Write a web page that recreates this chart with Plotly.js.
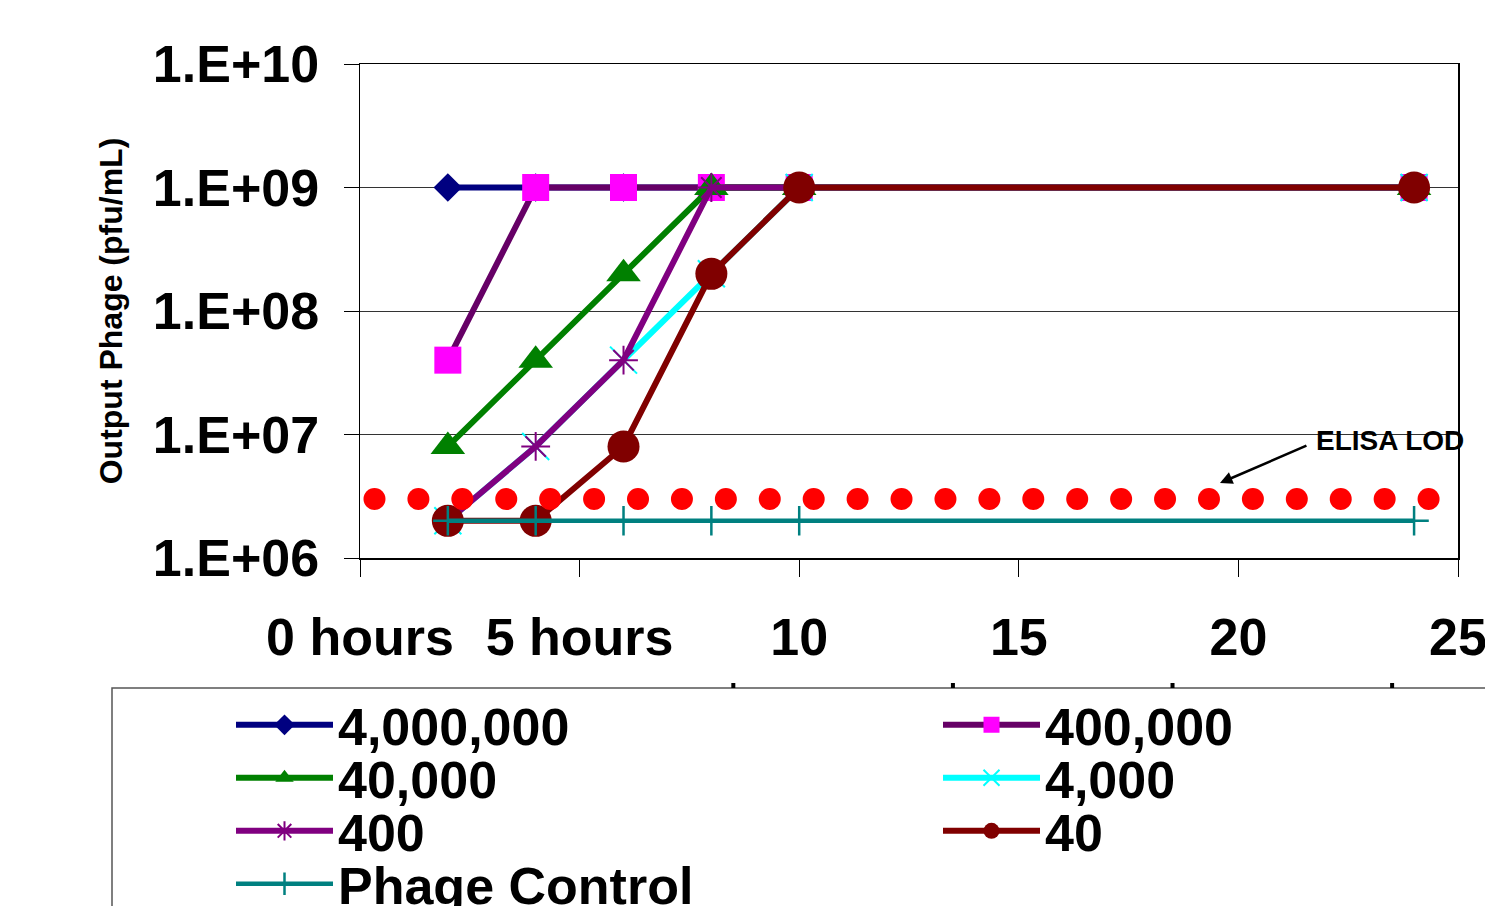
<!DOCTYPE html>
<html>
<head>
<meta charset="utf-8">
<script src="https://cdn.plot.ly/plotly-3.0.1.min.js"></script>
<style>html,body{margin:0;padding:0;background:#fff;}#chart{width:1485px;height:906px;}</style>
</head>
<body>
<div id="chart"></div>
<script>
// ---- data ----
const hours = [2, 4, 6, 8, 10, 24];
const s4000000 = [1e9, 1e9, 1e9, 1e9, 1e9, 1e9];
const s400000 = [4e7, 1e9, 1e9, 1e9, 1e9, 1e9];
const s40000 = [8e6, 4e7, 2e8, 1e9, 1e9, 1e9];
const s4000 = [2e6, 8e6, 4e7, 2e8, 1e9, 1e9];
const s400 = [2e6, 8e6, 4e7, 1e9, 1e9, 1e9];
const s40 = [2e6, 2e6, 8e6, 2e8, 1e9, 1e9];
const phageControl = [2e6, 2e6, 2e6, 2e6, 2e6, 2e6];
const lodX = [0.33, 1.33, 2.33, 3.33, 4.33, 5.33, 6.33, 7.33, 8.33, 9.33, 10.33, 11.33, 12.33,
              13.33, 14.33, 15.33, 16.33, 17.33, 18.33, 19.33, 20.33, 21.33, 22.33, 23.33, 24.33];
const lodY = [3e6, 3e6, 3e6, 3e6, 3e6, 3e6, 3e6, 3e6, 3e6, 3e6, 3e6, 3e6, 3e6,
              3e6, 3e6, 3e6, 3e6, 3e6, 3e6, 3e6, 3e6, 3e6, 3e6, 3e6, 3e6];
const xTickVals = [0, 5, 10, 15, 20, 25];
const xTickText = ['0 hours', '5 hours', '10', '15', '20', '25'];
const yTickVals = [1e6, 1e7, 1e8, 1e9, 1e10];
const yTickText = ['1.E+06', '1.E+07', '1.E+08', '1.E+09', '1.E+10'];
const seriesNames = ['4,000,000', '400,000', '40,000', '4,000', '400', '40', 'Phage Control'];

const FONT = 'Liberation Sans, Arial, sans-serif';

function tr(y, name, lineColor, lineW, marker, legendId) {
  return {
    x: hours, y: y, name: name, type: 'scatter', mode: 'lines+markers',
    line: {color: lineColor, width: lineW},
    marker: marker, legend: legendId, cliponaxis: false
  };
}

const traces = [
  tr(s4000000, seriesNames[0], '#000080', 6, {symbol: 'diamond', size: 22, color: '#000080', line: {width: 0}}, 'legend'),
  tr(s400000, seriesNames[1], '#660066', 6, {symbol: 'square', size: 27, color: '#FF00FF', line: {width: 0}}, 'legend'),
  tr(s40000, seriesNames[2], '#008000', 6, {symbol: 'triangle-up', size: 30, color: '#008000', line: {width: 0}}, 'legend2'),
  tr(s4000, seriesNames[3], '#00FFFF', 6, {symbol: 'x-thin', size: 27, color: '#00FFFF', line: {width: 2, color: '#00FFFF'}}, 'legend2'),
  tr(s400, seriesNames[4], '#800080', 6, {symbol: 'asterisk-open', size: 24, color: '#800080', line: {width: 2, color: '#800080'}}, 'legend3'),
  tr(s40, seriesNames[5], '#800000', 6, {symbol: 'circle', size: 32, color: '#800000', line: {width: 0}}, 'legend3'),
  tr(phageControl, seriesNames[6], '#008080', 4.5, {symbol: 'cross-thin', size: 21, color: '#008080', line: {width: 2.5, color: '#008080'}}, 'legend4'),
  {x: lodX, y: lodY, name: 'ELISA LOD', type: 'scatter', mode: 'markers',
   marker: {symbol: 'circle', size: 22, color: '#FF0000', line: {width: 0}},
   showlegend: false, cliponaxis: false}
];

// plot area in pixels: x 360..1458, y 64..558
const L = 360, R = 1458, T = 64, B = 558;
const px2x = p => (p - L) / (R - L);
const py2y = p => (B - p) / (B - T);

const legendFont = {family: FONT, size: 52, weight: 'bold', color: '#000'};
function legendAt(rowY) {
  return {
    orientation: 'h', x: px2x(231), xanchor: 'left', y: py2y(rowY), yanchor: 'middle',
    bgcolor: 'rgba(0,0,0,0)', borderwidth: 0, font: legendFont,
    itemwidth: 97,
    entrywidth: 595, entrywidthmode: 'pixels', traceorder: 'normal'
  };
}

const layout = {
  width: 1485, height: 906,
  margin: {l: L, r: 1485 - R, t: T, b: 906 - B, autoexpand: false},
  paper_bgcolor: '#fff', plot_bgcolor: '#fff',
  showlegend: true,
  xaxis: {
    range: [0, 25], tickvals: xTickVals, ticktext: xTickText,
    showgrid: false, zeroline: false, showline: true, linecolor: '#000', linewidth: 1.5, mirror: true,
    ticks: 'outside', ticklen: 17, tickcolor: '#000', tickwidth: 1,
    ticklabelstandoff: 16, ticklabeloverflow: 'allow',
    tickfont: {family: FONT, size: 52, weight: 'bold', color: '#000'}
  },
  yaxis: {
    type: 'log', range: [6, 10], tickvals: yTickVals, ticktext: yTickText,
    showgrid: true, gridcolor: '#333', gridwidth: 1, zeroline: false,
    showline: true, linecolor: '#000', linewidth: 1.5, mirror: true,
    ticks: 'outside', ticklen: 15, tickcolor: '#000', tickwidth: 1,
    ticklabelstandoff: 14, ticklabeloverflow: 'allow',
    tickfont: {family: FONT, size: 52, weight: 'bold', color: '#000'},
    title: {text: 'Output Phage (pfu/mL)', font: {family: FONT, size: 32, weight: 'bold', color: '#000'}, standoff: 20}
  },
  legend: legendAt(725),
  legend2: legendAt(778),
  legend3: legendAt(831),
  legend4: legendAt(884),
  shapes: [
    {type: 'rect', xref: 'paper', yref: 'paper', x0: px2x(112), x1: px2x(1500), y0: py2y(688), y1: py2y(920),
     line: {color: '#555', width: 1.5}, fillcolor: 'rgba(0,0,0,0)', layer: 'below'},
    {type: 'line', xref: 'x', yref: 'paper', x0: 8.5, x1: 8.5, y0: py2y(683), y1: py2y(688), line: {color: '#000', width: 4}},
    {type: 'line', xref: 'x', yref: 'paper', x0: 13.5, x1: 13.5, y0: py2y(683), y1: py2y(688), line: {color: '#000', width: 4}},
    {type: 'line', xref: 'x', yref: 'paper', x0: 18.5, x1: 18.5, y0: py2y(683), y1: py2y(688), line: {color: '#000', width: 4}},
    {type: 'line', xref: 'x', yref: 'paper', x0: 23.5, x1: 23.5, y0: py2y(683), y1: py2y(688), line: {color: '#000', width: 4}}
  ],
  annotations: [
    {xref: 'x', yref: 'y', x: 19.58, y: 6.607, text: '', showarrow: true,
     ax: 88, ay: -38, arrowhead: 2, arrowsize: 1, arrowwidth: 2.5, arrowcolor: '#000'},
    {xref: 'x', yref: 'y', x: 23.45, y: 6.955, text: 'ELISA LOD', showarrow: false,
     xanchor: 'center', yanchor: 'middle',
     font: {family: FONT, size: 28, weight: 'bold', color: '#000'}}
  ]
};

Plotly.newPlot('chart', traces, layout, {displayModeBar: false, staticPlot: true});
</script>
</body>
</html>
